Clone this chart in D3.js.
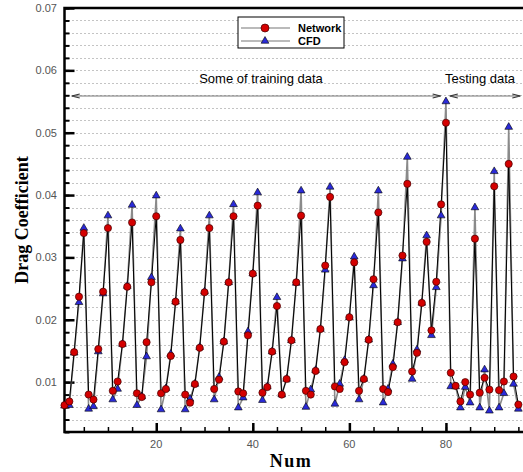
<!DOCTYPE html>
<html>
<head>
<meta charset="utf-8">
<script src="https://cdn.jsdelivr.net/npm/d3@7"></script>
<style>
  body { margin: 0; background: #fff; }
  svg { display: block; }
</style>
</head>
<body>
<div id="chart"></div>
<script>
// sample index runs 1..95
const nums = d3.range(1, 96);

const network = [
  0.0063, 0.0069, 0.0148, 0.0237, 0.0339, 0.0080, 0.0072, 0.0153, 0.0245, 0.0347,
  0.0086, 0.0101, 0.0161, 0.0253, 0.0356, 0.0082, 0.0076, 0.0164, 0.0260, 0.0366,
  0.0082, 0.0089, 0.0142, 0.0229, 0.0328, 0.0080, 0.0067, 0.0097, 0.0155, 0.0244,
  0.0347, 0.0089, 0.0104, 0.0165, 0.0260, 0.0366, 0.0085, 0.0082, 0.0175, 0.0274,
  0.0383, 0.0083, 0.0092, 0.0149, 0.0222, 0.0080, 0.0105, 0.0167, 0.0260, 0.0367,
  0.0086, 0.0080, 0.0118, 0.0185, 0.0287, 0.0397, 0.0093, 0.0089, 0.0132, 0.0204,
  0.0292, 0.0086, 0.0105, 0.0168, 0.0265, 0.0372, 0.0089, 0.0084, 0.0124, 0.0196,
  0.0303, 0.0418, 0.0117, 0.0147, 0.0227, 0.0325, 0.0183, 0.0261, 0.0385, 0.0516,
  0.0115, 0.0094, 0.0069, 0.0100, 0.0080, 0.0330, 0.0083, 0.0107, 0.0088, 0.0414,
  0.0087, 0.0101, 0.0450, 0.0109, 0.0064
];

const cfd = [
  0.0062, 0.0063, 0.0147, 0.0228, 0.0347, 0.0057, 0.0061, 0.0149, 0.0242, 0.0367,
  0.0072, 0.0089, 0.0161, 0.0254, 0.0384, 0.0063, 0.0077, 0.0141, 0.0268, 0.0399,
  0.0056, 0.0090, 0.0145, 0.0229, 0.0346, 0.0056, 0.0073, 0.0097, 0.0156, 0.0245,
  0.0367, 0.0072, 0.0108, 0.0165, 0.0260, 0.0385, 0.0059, 0.0075, 0.0181, 0.0274,
  0.0404, 0.0071, 0.0093, 0.0149, 0.0236, 0.0080, 0.0105, 0.0167, 0.0259, 0.0407,
  0.0060, 0.0088, 0.0119, 0.0185, 0.0280, 0.0413, 0.0065, 0.0097, 0.0135, 0.0204,
  0.0301, 0.0072, 0.0105, 0.0168, 0.0255, 0.0407, 0.0067, 0.0089, 0.0129, 0.0196,
  0.0298, 0.0461, 0.0105, 0.0152, 0.0227, 0.0335, 0.0175, 0.0252, 0.0367, 0.0550,
  0.0093, 0.0093, 0.0059, 0.0092, 0.0067, 0.0380, 0.0059, 0.0120, 0.0054, 0.0438,
  0.0059, 0.0082, 0.0509, 0.0097, 0.0057
];

const yLabels = [0.01, 0.02, 0.03, 0.04, 0.05, 0.06, 0.07];
const xLabels = [20, 40, 60, 80];

const width = 523, height = 472;
const margin = { top: 8, right: 0, bottom: 40, left: 64.5 };

const svg = d3.select('#chart').append('svg')
  .attr('width', width)
  .attr('height', height);

const x = d3.scaleLinear().domain([1, 96]).range([margin.left, 523.2]);
const y = d3.scaleLinear().domain([0.002, 0.07]).range([height - margin.bottom, margin.top]);

// dotted grid every 0.002
const gridVals = d3.range(0.004, 0.0695, 0.002);
svg.append('g').selectAll('line')
  .data(gridVals)
  .enter().append('line')
  .attr('x1', margin.left).attr('x2', width)
  .attr('y1', d => Math.round(y(d)) + 0.5).attr('y2', d => Math.round(y(d)) + 0.5)
  .attr('stroke', '#888')
  .attr('stroke-width', 1)
  .attr('stroke-dasharray', '1,3');

// y axis with inward ticks
const yMinor = d3.range(0.002, 0.0705, 0.002);
svg.append('g')
  .attr('transform', `translate(${margin.left},0)`)
  .call(d3.axisRight(y).tickValues(yMinor).tickSize(5).tickFormat(''))
  .call(g => g.select('.domain').remove())
  .call(g => g.selectAll('line').attr('stroke', '#000').attr('stroke-width', 2));
svg.append('g')
  .attr('transform', `translate(${margin.left},0)`)
  .call(d3.axisRight(y).tickValues(yLabels).tickSize(10).tickFormat(''))
  .call(g => g.select('.domain').remove())
  .call(g => g.selectAll('line').attr('stroke', '#000').attr('stroke-width', 2.5));
svg.append('g').selectAll('text')
  .data(yLabels)
  .enter().append('text')
  .attr('x', 57)
  .attr('y', d => y(d) + 4)
  .attr('text-anchor', 'end')
  .attr('font-family', 'Arial, "Liberation Sans", sans-serif')
  .attr('font-size', 11)
  .attr('fill', '#555')
  .text(d3.format('.2f'));

// x axis with inward ticks
const xBottom = height - margin.bottom;
svg.append('g')
  .attr('transform', `translate(0,${xBottom})`)
  .call(d3.axisTop(x).tickValues(d3.range(5, 96, 5)).tickSize(5).tickFormat(''))
  .call(g => g.select('.domain').remove())
  .call(g => g.selectAll('line').attr('stroke', '#000').attr('stroke-width', 1.5));
svg.append('g')
  .attr('transform', `translate(0,${xBottom})`)
  .call(d3.axisTop(x).tickValues(xLabels).tickSize(9).tickFormat(''))
  .call(g => g.select('.domain').remove())
  .call(g => g.selectAll('line').attr('stroke', '#000').attr('stroke-width', 2.5));
svg.append('g').selectAll('text')
  .data(xLabels)
  .enter().append('text')
  .attr('x', d => x(d))
  .attr('y', xBottom + 16)
  .attr('text-anchor', 'middle')
  .attr('font-family', 'Arial, "Liberation Sans", sans-serif')
  .attr('font-size', 11)
  .attr('fill', '#555')
  .text(d => d);

// frame: left, bottom, top
svg.append('path')
  .attr('d', `M${width},${margin.top}H${margin.left}V${xBottom}H${width}`)
  .attr('fill', 'none')
  .attr('stroke', '#000')
  .attr('stroke-width', 2.5);

// axis titles
svg.append('text')
  .attr('transform', `translate(28,${(margin.top + xBottom) / 2}) rotate(-90)`)
  .attr('text-anchor', 'middle')
  .attr('font-family', '"Liberation Serif", "Times New Roman", serif')
  .attr('font-weight', 'bold')
  .attr('font-size', 18)
  .text('Drag Coefficient');
svg.append('text')
  .attr('x', 291)
  .attr('y', 467)
  .attr('text-anchor', 'middle')
  .attr('font-family', '"Liberation Serif", "Times New Roman", serif')
  .attr('font-weight', 'bold')
  .attr('font-size', 18)
  .attr('letter-spacing', 1.5)
  .text('Num');

// annotation arrows
const arrowY = 96;
const arrows = [[x(2.5), x(78.9)], [x(80.8), x(95.4)]];
const ann = svg.append('g').attr('stroke', '#777').attr('fill', 'none').attr('stroke-width', 1.2);
arrows.forEach(([a, b]) => {
  ann.append('line').attr('x1', a).attr('x2', b).attr('y1', arrowY).attr('y2', arrowY);
  ann.append('path').attr('d', `M${a + 8},${arrowY - 2}L${a},${arrowY}L${a + 8},${arrowY + 2}`).attr('stroke', '#333');
  ann.append('path').attr('d', `M${b - 8},${arrowY - 2}L${b},${arrowY}L${b - 8},${arrowY + 2}`).attr('stroke', '#333');
});
svg.append('text')
  .attr('x', 261).attr('y', 83)
  .attr('text-anchor', 'middle')
  .attr('font-family', 'Arial, "Liberation Sans", sans-serif')
  .attr('font-size', 13)
  .text('Some of training data');
svg.append('text')
  .attr('x', 445).attr('y', 83)
  .attr('font-family', 'Arial, "Liberation Sans", sans-serif')
  .attr('font-size', 13)
  .text('Testing data');

// series
const netData = nums.map((n, i) => ({ n, v: network[i] }));
const cfdData = nums.map((n, i) => ({ n, v: cfd[i] }));
const line = d3.line().x(d => x(d.n)).y(d => y(d.v));

const plot = svg.append('g');
plot.append('path').datum(cfdData)
  .attr('d', line).attr('fill', 'none')
  .attr('stroke', '#8a8a8a').attr('stroke-width', 1.6);
plot.append('path').datum(netData)
  .attr('d', line).attr('fill', 'none')
  .attr('stroke', '#000').attr('stroke-width', 1);

const tri = d3.symbol().type(d3.symbolTriangle).size(26);
plot.selectAll('.cfd-pt')
  .data(cfdData)
  .enter().append('path')
  .attr('class', 'cfd-pt')
  .attr('d', tri)
  .attr('transform', d => `translate(${x(d.n)},${y(d.v)})`)
  .attr('fill', '#2a2ad8')
  .attr('stroke', '#000')
  .attr('stroke-width', 0.6);
plot.selectAll('.net-pt')
  .data(netData)
  .enter().append('circle')
  .attr('class', 'net-pt')
  .attr('cx', d => x(d.n))
  .attr('cy', d => y(d.v))
  .attr('r', 3.6)
  .attr('fill', '#d40000')
  .attr('stroke', '#400')
  .attr('stroke-width', 0.7);

// legend
const leg = svg.append('g').attr('transform', 'translate(238,17)');
leg.append('rect')
  .attr('width', 106).attr('height', 31)
  .attr('fill', '#fff').attr('stroke', '#000').attr('stroke-width', 1);
const legItems = [
  { label: 'Network', yy: 11 },
  { label: 'CFD', yy: 24 }
];
legItems.forEach((it, i) => {
  leg.append('line')
    .attr('x1', 3).attr('x2', 52)
    .attr('y1', it.yy).attr('y2', it.yy)
    .attr('stroke', '#777').attr('stroke-width', 1.2);
  if (i === 0) {
    leg.append('circle').attr('cx', 27).attr('cy', it.yy).attr('r', 4)
      .attr('fill', '#d40000').attr('stroke', '#400').attr('stroke-width', 0.7);
  } else {
    leg.append('path').attr('d', tri).attr('transform', `translate(27,${it.yy})`)
      .attr('fill', '#2a2ad8').attr('stroke', '#000').attr('stroke-width', 0.6);
  }
  leg.append('text')
    .attr('x', 60).attr('y', it.yy + 4)
    .attr('font-family', 'Arial, "Liberation Sans", sans-serif')
    .attr('font-size', 11)
    .attr('font-weight', 'bold')
    .text(it.label);
});
</script>
</body>
</html>
